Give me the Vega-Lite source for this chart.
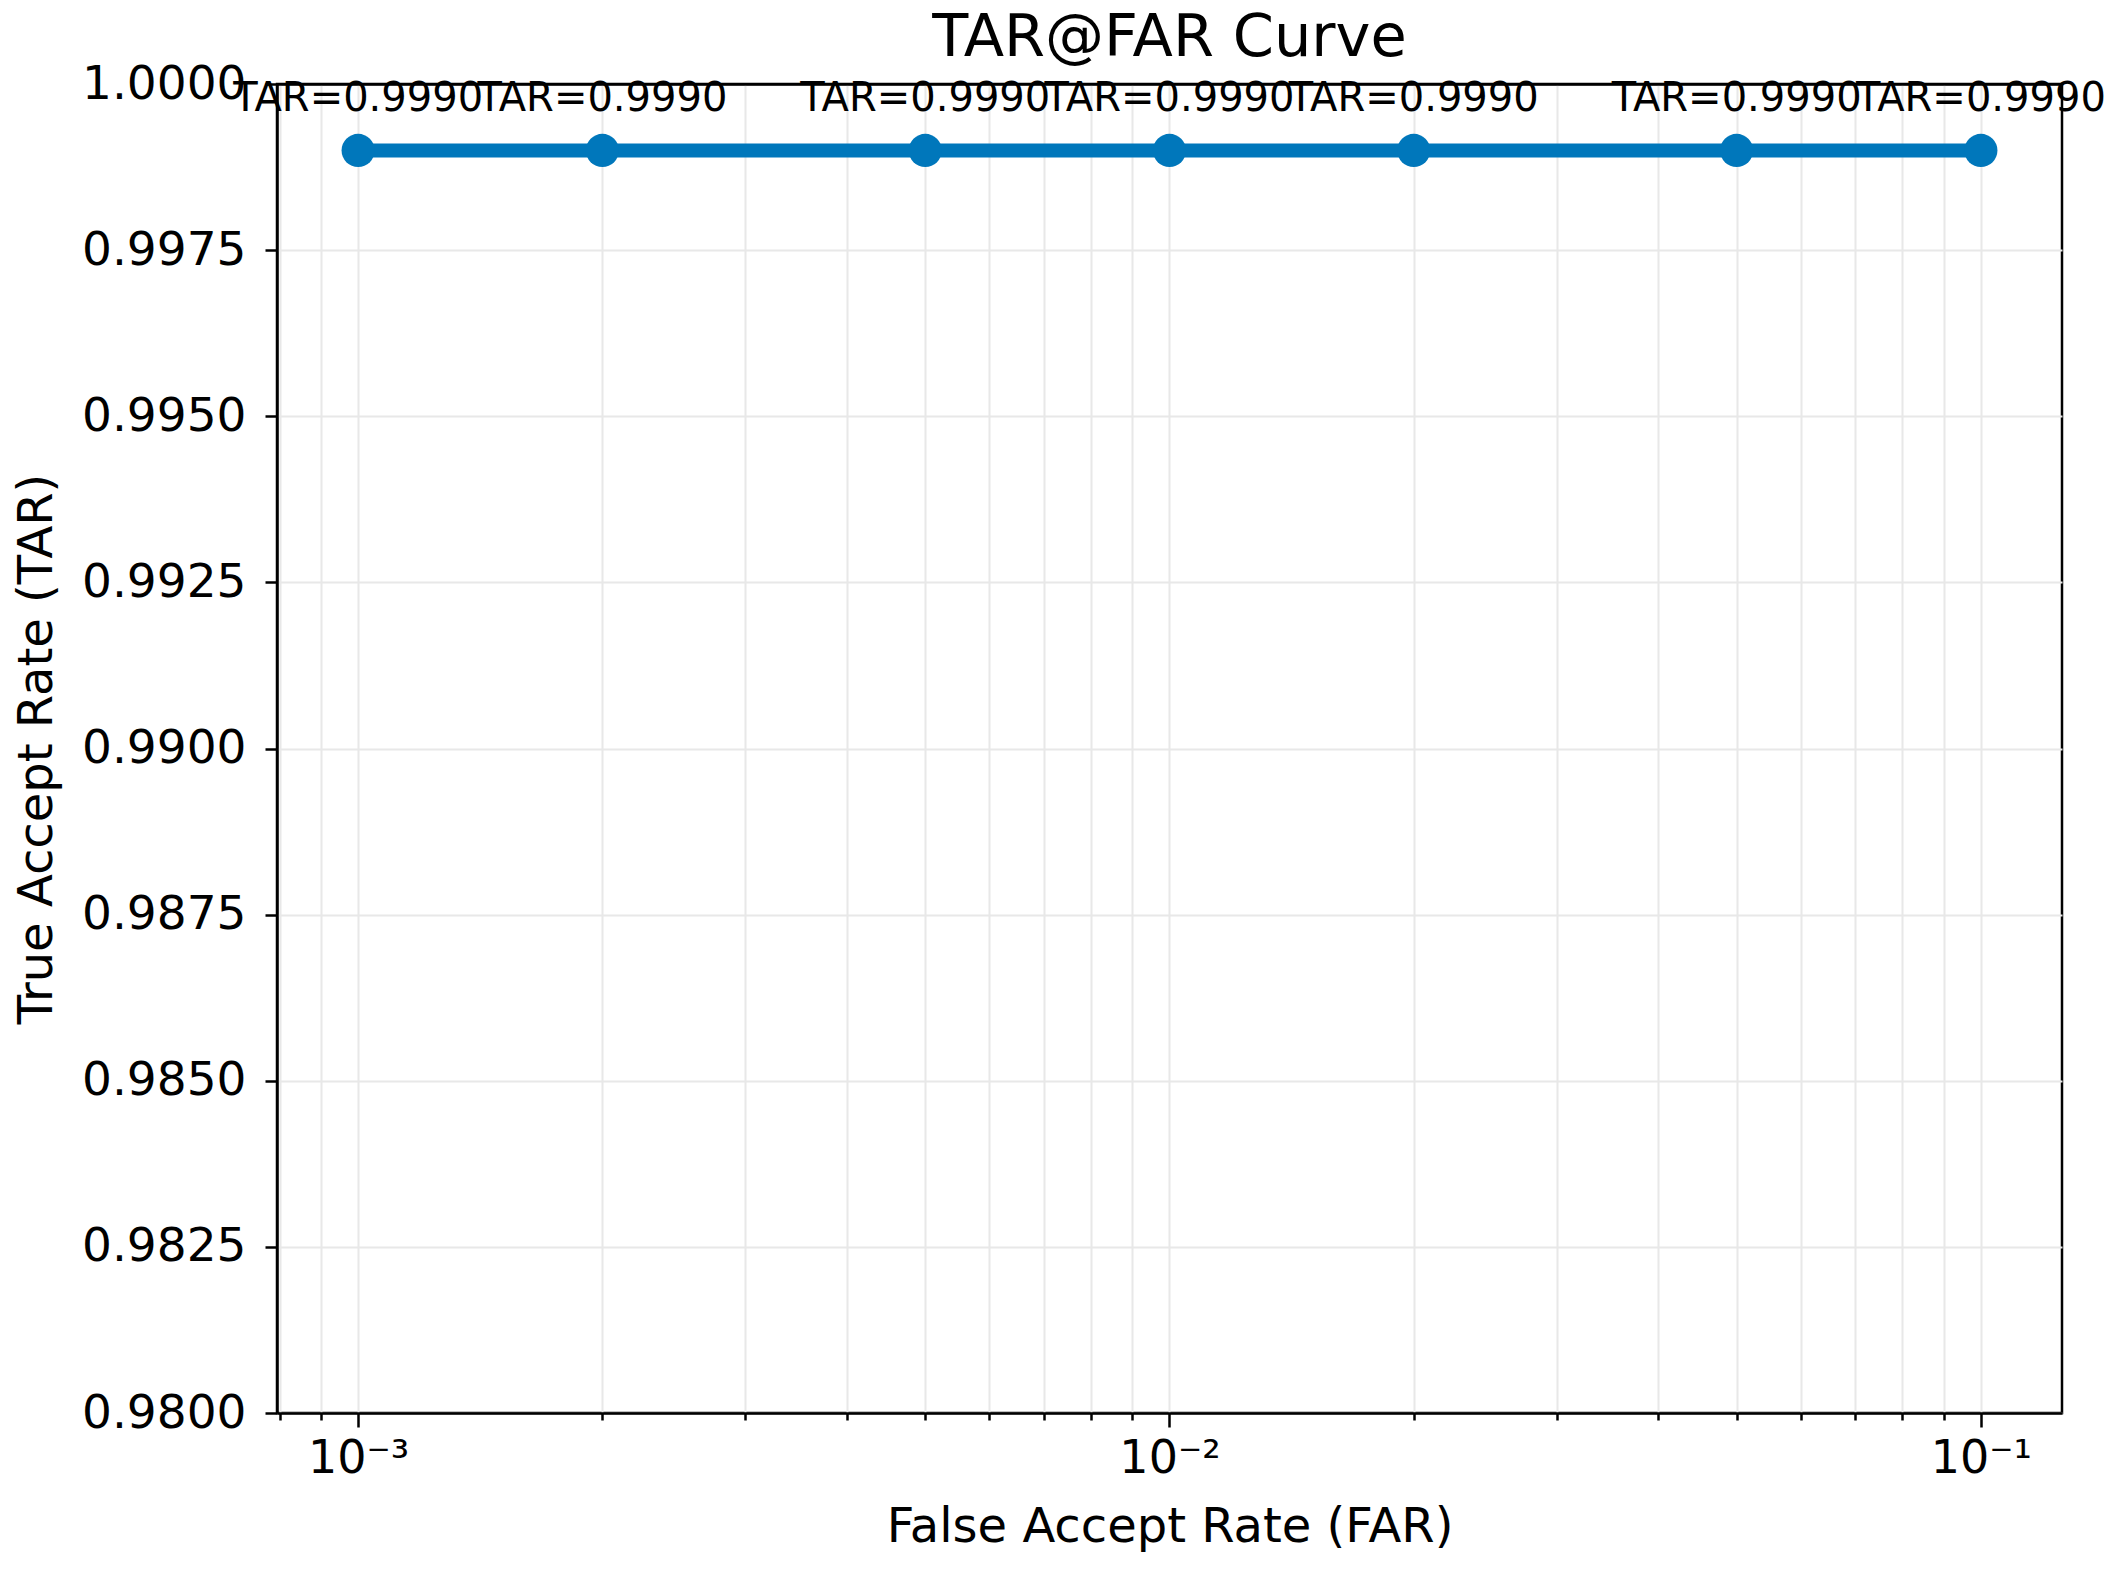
{
  "$schema": "https://vega.github.io/schema/vega-lite/v6.json",
  "autosize": "none",
  "width": 1785,
  "height": 1329,
  "padding": {"left": 277, "top": 84, "right": 58, "bottom": 164},
  "background": "white",
  "config": {
    "font": "DejaVu Sans",
    "view": {"stroke": "black", "strokeWidth": 2.5},
    "axis": {
      "domainColor": "black",
      "domainWidth": 2.5,
      "tickColor": "black",
      "tickWidth": 2.5,
      "labelColor": "black",
      "titleColor": "black",
      "labelFont": "DejaVu Sans",
      "titleFont": "DejaVu Sans",
      "titleFontWeight": "normal",
      "gridColor": "#e8e8e8",
      "gridWidth": 2
    }
  },
  "title": {
    "text": "TAR@FAR Curve",
    "fontSize": 59,
    "fontWeight": "normal",
    "font": "DejaVu Sans",
    "color": "black",
    "anchor": "middle",
    "frame": "group",
    "baseline": "alphabetic",
    "offset": 0,
    "dy": 55
  },
  "data": {
    "values": [
      {"FAR": 0.001, "TAR": 0.999, "label": "TAR=0.9990"},
      {"FAR": 0.002, "TAR": 0.999, "label": "TAR=0.9990"},
      {"FAR": 0.005, "TAR": 0.999, "label": "TAR=0.9990"},
      {"FAR": 0.01, "TAR": 0.999, "label": "TAR=0.9990"},
      {"FAR": 0.02, "TAR": 0.999, "label": "TAR=0.9990"},
      {"FAR": 0.05, "TAR": 0.999, "label": "TAR=0.9990"},
      {"FAR": 0.1, "TAR": 0.999, "label": "TAR=0.9990"}
    ]
  },
  "encoding": {
    "x": {
      "field": "FAR",
      "type": "quantitative",
      "scale": {"type": "log", "domain": [0.000794328, 0.125893], "nice": false},
      "axis": {
        "title": "False Accept Rate (FAR)",
        "titleFontSize": 48,
        "titlePadding": 22,
        "labelFontSize": 46,
        "labelPadding": 9,
        "labelOverlap": false,
        "labelFlush": false,
        "grid": true,
        "values": [0.0008, 0.0009, 0.001, 0.002, 0.003, 0.004, 0.005, 0.006, 0.007, 0.008, 0.009, 0.01, 0.02, 0.03, 0.04, 0.05, 0.06, 0.07, 0.08, 0.09, 0.1],
        "labelExpr": "abs(datum.value - 0.001) < 1e-7 ? '10⁻³' : abs(datum.value - 0.01) < 1e-6 ? '10⁻²' : abs(datum.value - 0.1) < 1e-5 ? '10⁻¹' : ''",
        "tickSize": {"condition": {"test": "abs(datum.value - 0.001) < 1e-7 || abs(datum.value - 0.01) < 1e-6 || abs(datum.value - 0.1) < 1e-5", "value": 14}, "value": 7}
      }
    },
    "y": {
      "field": "TAR",
      "type": "quantitative",
      "scale": {"domain": [0.98, 1.0], "nice": false, "zero": false},
      "axis": {
        "title": "True Accept Rate (TAR)",
        "titleFontSize": 48,
        "titlePadding": 20,
        "labelFontSize": 47,
        "labelPadding": 19,
        "tickSize": 12,
        "grid": true,
        "gridColor": {"condition": {"test": "datum.value > 0.99999", "value": "black"}, "value": "#e8e8e8"},
        "gridWidth": {"condition": {"test": "datum.value > 0.99999", "value": 2.5}, "value": 2},
        "format": ".4f",
        "labelFlush": false,
        "values": [0.98, 0.9825, 0.985, 0.9875, 0.99, 0.9925, 0.995, 0.9975, 1.0]
      }
    }
  },
  "layer": [
    {"mark": {"type": "line", "color": "#0077BB", "strokeWidth": 14, "clip": false}},
    {"mark": {"type": "point", "filled": true, "color": "#0077BB", "opacity": 1, "size": 1100, "shape": "circle"}},
    {"mark": {"type": "text", "fontSize": 40, "color": "black", "baseline": "alphabetic", "align": "center", "dy": -39, "font": "DejaVu Sans"},
     "encoding": {"text": {"field": "label"}}}
  ]
}
